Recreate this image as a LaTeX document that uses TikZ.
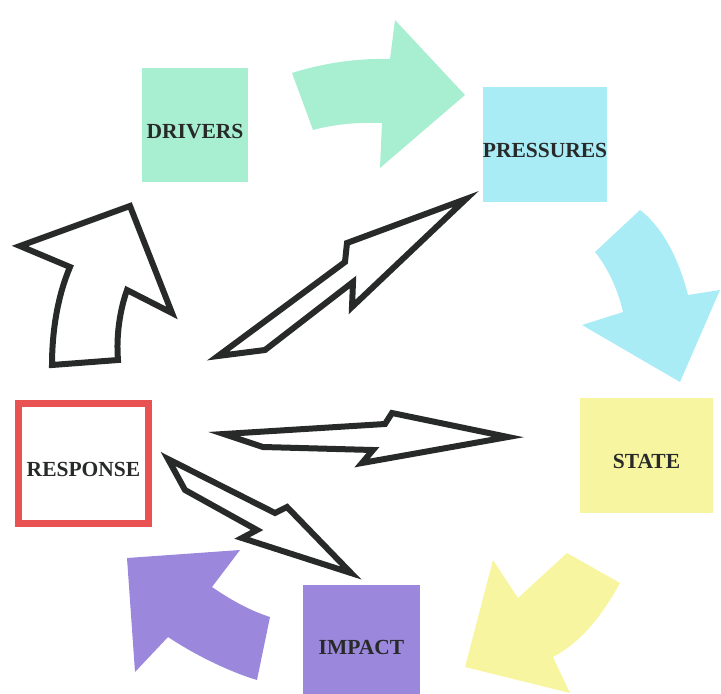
\documentclass[tikz,border=0pt]{standalone}
\usepackage{fontspec}
\setmainfont{Liberation Serif}
\definecolor{mint}{RGB}{168,238,208}
\definecolor{aqua}{RGB}{170,236,245}
\definecolor{lemon}{RGB}{248,245,160}
\definecolor{lilac}{RGB}{155,135,220}
\definecolor{alarm}{RGB}{232,82,82}
\definecolor{ink}{RGB}{40,42,42}

\begin{document}
\begin{tikzpicture}[x=1pt, y=-1pt]
      \tikzstyle{every node}=[font=\fontsize{21.5}{24}\selectfont\bfseries, text=ink, text height=26pt, text depth=0pt, inner sep=0pt]
      \tikzstyle{stage}=[rectangle, minimum height=115pt]
      \tikzstyle{hollow}=[draw=ink, fill=white, line width=6pt]
      \useasboundingbox (0,0) rectangle (721,694);
      \node [stage, fill=mint, minimum width=106pt, minimum height=114pt] (drv) at (195,125) {DRIVERS};
      \node [stage, fill=aqua, minimum width=124pt] (prs) at (545,144.5) {PRESSURES};
      \node [stage, fill=lemon, minimum width=133pt] (stt) at (646.5,455.5) {STATE};
      \node [stage, fill=lilac, minimum width=117pt, minimum height=112pt] (imp) at (361.5,641) {IMPACT};
      \node [stage, draw=alarm, line width=7pt, minimum width=130pt, minimum height=120pt] (rsp) at (83.5,463.5) {RESPONSE};
      % cycle arrows
      \fill[mint] (292,73) .. controls (320,64) and (355,58) .. (390,59) -- (395,20) -- (465,95) -- (380,168) -- (382,123) .. controls (360,122) and (335,124) .. (313,130) -- cycle;
      \fill[aqua] (640,210) .. controls (660,225) and (678,255) .. (688,295) -- (720,290) -- (680,382) -- (582,325) -- (623,312) .. controls (618,290) and (608,268) .. (595,252) -- cycle;
      \fill[lemon] (567,553) -- (620,583) .. controls (605,610) and (585,640) .. (553,657) -- (570,693) -- (465,667) -- (493,560) -- (518,598) -- cycle;
      \fill[lilac] (127,558) -- (240,550) -- (212,587) .. controls (228,598) and (248,610) .. (270,617) -- (257,680) .. controls (230,672) and (195,655) .. (168,637) -- (135,672) -- cycle;
      % response arrows
      \draw[hollow] (130,206) -- (20,246) -- (70,267) .. controls (58,295) and (52,330) .. (52,365) -- (118,360) .. controls (116,335) and (120,310) .. (127,290) -- (172,313) -- cycle;
      \draw[hollow] (218,356) -- (345,262) -- (347,243) -- (466,199) -- (352,307) -- (353,282) -- (265,350) -- cycle;
      \draw[hollow] (224,434) -- (385,424) -- (392,413) -- (508,437) -- (362,463) -- (373,450) -- (263,447) -- cycle;
      \draw[hollow] (168,459) -- (275,513) -- (287,507) -- (351,573) -- (242,538) -- (257,530) -- (185,490) -- cycle;
\end{tikzpicture}
\end{document}
